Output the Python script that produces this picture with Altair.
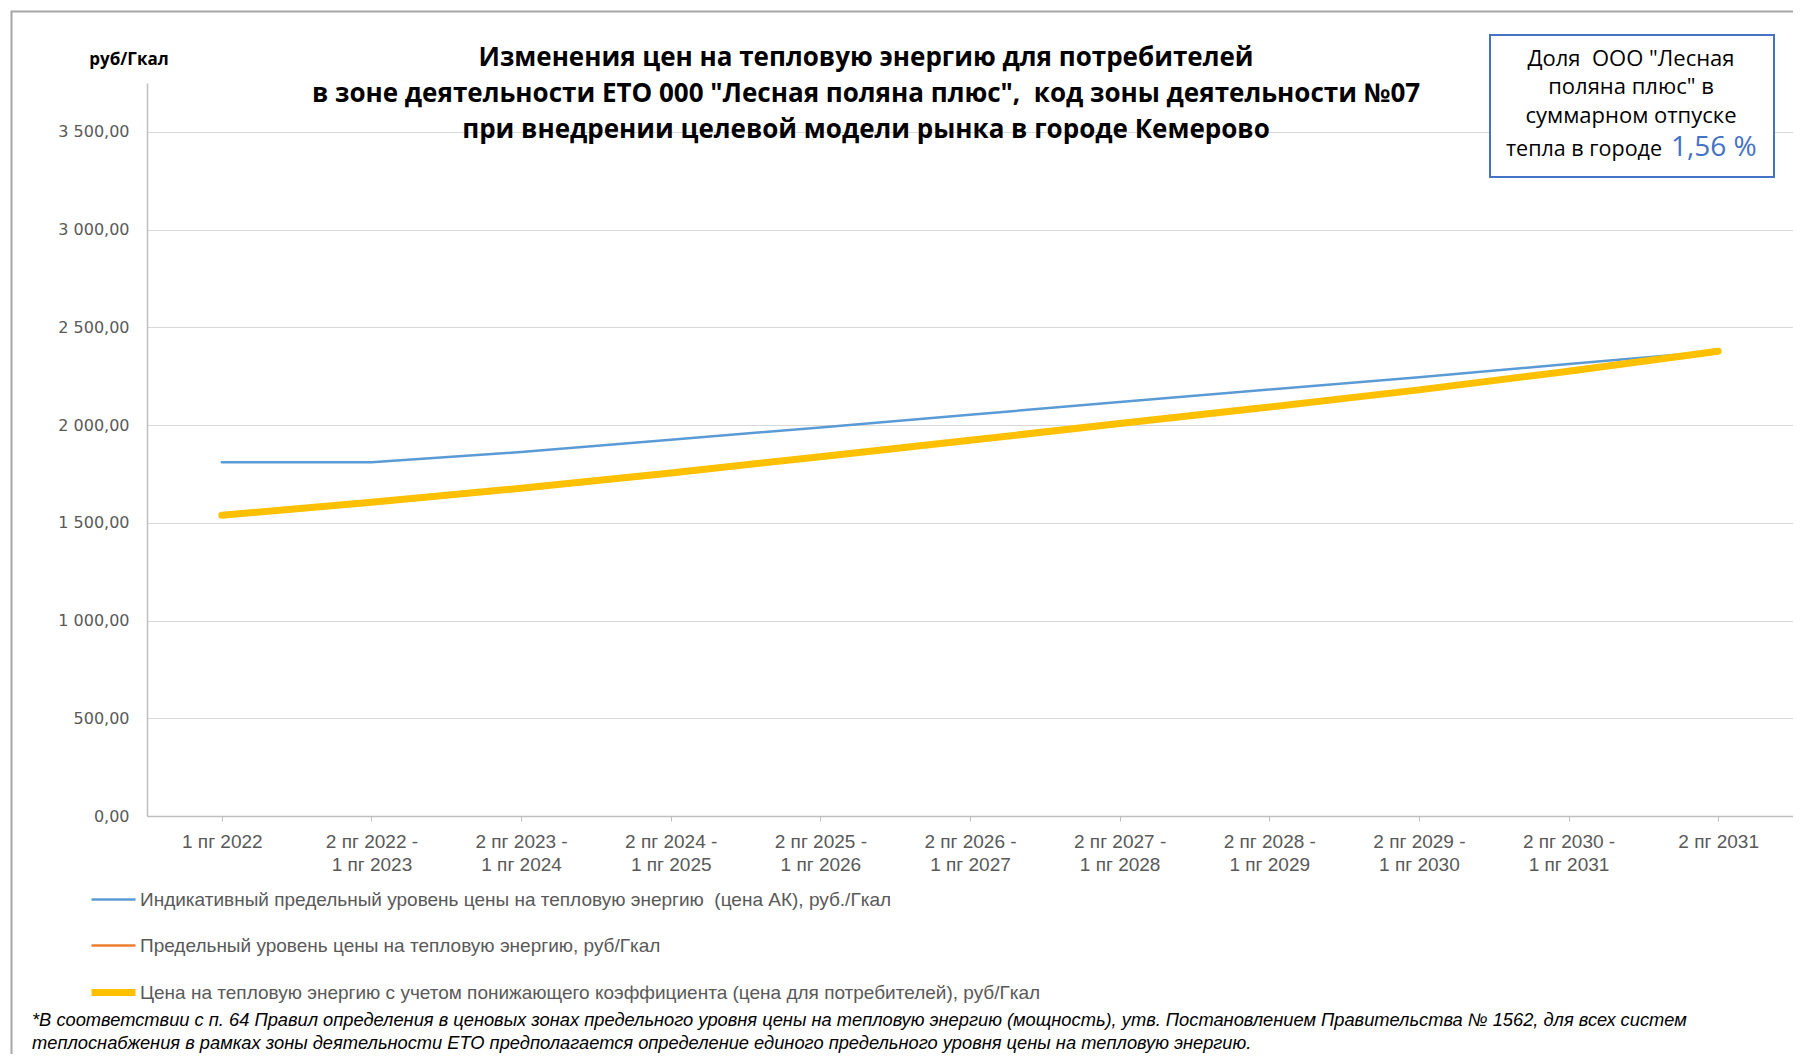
import altair as alt
import pandas as pd

categories = [
    "1 пг 2022",
    "2 пг 2022 - 1 пг 2023",
    "2 пг 2023 - 1 пг 2024",
    "2 пг 2024 - 1 пг 2025",
    "2 пг 2025 - 1 пг 2026",
    "2 пг 2026 - 1 пг 2027",
    "2 пг 2027 - 1 пг 2028",
    "2 пг 2028 - 1 пг 2029",
    "2 пг 2029 - 1 пг 2030",
    "2 пг 2030 - 1 пг 2031",
    "2 пг 2031",
]
indicative = [1810, 1810, 1862, 1925, 1988, 2053, 2118, 2182, 2245, 2312, 2378]
consumer = [1539, 1605, 1677, 1755, 1838, 1922, 2008, 2092, 2180, 2275, 2378]

series_names = [
    "Индикативный предельный уровень цены на тепловую энергию\u00a0 (цена АК), руб./Гкал",
    "Предельный уровень цены на тепловую энергию, руб/Гкал",
    "Цена на тепловую энергию с учетом понижающего коэффициента (цена для потребителей), руб/Гкал",
]
series_colors = ["#5B9BD5", "#ED7D31", "#FFC000"]
y_ticks = [0, 500, 1000, 1500, 2000, 2500, 3000, 3500]

title_lines = [
    "Изменения цен на тепловую энергию для потребителей",
    "в зоне деятельности ЕТО 000 \"Лесная поляна плюс\",\u00a0 код зоны деятельности №07",
    "при внедрении целевой модели рынка в городе Кемерово",
]
y_unit = "руб/Гкал"
share_lines = ["Доля\u00a0 ООО \"Лесная", "поляна плюс\" в", "суммарном отпуске", "тепла в городе"]
share_value = "1,56 %"
footnote_lines = [
    "*В соответствии с п. 64 Правил определения в ценовых зонах предельного уровня цены на тепловую энергию (мощность), утв. Постановлением Правительства № 1562, для всех систем",
    "теплоснабжения в рамках зоны деятельности ЕТО предполагается определение единого предельного уровня цены на тепловую энергию.",
]

W, H = 1646, 733
NARROW = "Liberation Sans Narrow, Liberation Sans, sans-serif"

df_ind = pd.DataFrame({"cat": categories, "value": indicative, "series": series_names[0]})
df_con = pd.DataFrame({"cat": categories, "value": consumer, "series": series_names[2]})

x_enc = alt.X(
    "cat:N",
    sort=categories,
    scale=alt.Scale(type="point", padding=0.5, domain=categories),
    axis=alt.Axis(
        title=None,
        labelAngle=0,
        labelExpr="split(replace(datum.label, ' - ', ' -|'), '|')",
        labelFont=NARROW,
        labelFontSize=19,
        labelColor="#595959",
        labelLineHeight=23,
        labelPadding=11.5,
        tickColor="#BFBFBF",
        tickSize=5,
        domainColor="#BFBFBF",
        domainWidth=1.5,
        grid=False,
    ),
)
y_enc = alt.Y(
    "value:Q",
    scale=alt.Scale(domain=[0, 3750], nice=False, zero=True),
    axis=alt.Axis(
        title=None,
        values=y_ticks,
        labelExpr="replace(replace(format(datum.value, ',.2f'), ',', ' '), '.', ',')",
        labelFont="DejaVu Sans",
        labelFontSize=16,
        labelColor="#595959",
        labelPadding=18,
        ticks=False,
        tickSize=0,
        grid=True,
        gridColor="#D9D9D9",
        domainColor="#BFBFBF",
        domainWidth=1.5,
    ),
)


def legend(x, y, width, offset):
    return alt.Legend(
        title=None,
        orient="none",
        legendX=x,
        legendY=y,
        direction="vertical",
        symbolType="stroke",
        symbolSize=1936,
        symbolStrokeWidth=width,
        labelFont=NARROW,
        labelFontSize=19,
        labelColor="#595959",
        labelLimit=0,
        labelOffset=offset,
        rowPadding=12,
        padding=0,
    )


line_ind = alt.Chart(df_ind).mark_line(strokeCap="round", strokeJoin="round", strokeWidth=2.5).encode(
    x=x_enc,
    y=y_enc,
    color=alt.Color(
        "series:N",
        scale=alt.Scale(domain=series_names[:2], range=series_colors[:2]),
        legend=legend(-57, 793, 2.5, 3),
    ),
)
line_con = alt.Chart(df_con).mark_line(strokeCap="round", strokeJoin="round", strokeWidth=7).encode(
    x=x_enc,
    y=y_enc,
    color=alt.Color(
        "series:N",
        scale=alt.Scale(domain=series_names[2:], range=series_colors[2:]),
        legend=legend(-59, 884, 7, 1),
    ),
)

one = pd.DataFrame({"t": [""]})


def txt(text, x, y, **kw):
    return alt.Chart(pd.DataFrame({"t": [text]})).mark_text(baseline="middle", **kw).encode(
        text="t:N", x=alt.value(x), y=alt.value(y)
    )


border = alt.Chart(one).mark_rect(fillOpacity=0, stroke="#A6A6A6", strokeWidth=2).encode(
    x=alt.value(-135.5), y=alt.value(-71.5), x2=alt.value(3000), y2=alt.value(3000)
)
box = alt.Chart(one).mark_rect(fill="white", stroke="#4472C4", strokeWidth=2).encode(
    x=alt.value(1343), y=alt.value(-48), x2=alt.value(1627), y2=alt.value(94)
)

layers = [border, line_ind, line_con, box]
for i, t in enumerate(title_lines):
    layers.append(txt(t, 719, -25.5 + 36 * i, font="Open Sans", fontSize=26, fontWeight="bold",
                      color="black", align="center"))
layers.append(txt(y_unit, -18, -23, font="Open Sans", fontSize=17, fontWeight="bold",
                  color="black", align="center"))
for i, t in enumerate(share_lines[:3]):
    layers.append(txt(t, 1484, -24.5 + 28.8 * i, font="Open Sans", fontSize=22,
                      color="black", align="center"))
layers.append(txt(share_lines[3], 1515, 66.5, font="Open Sans", fontSize=21.5,
                  color="black", align="right"))
layers.append(txt(share_value, 1524, 65, font="Open Sans", fontSize=28,
                  color="#4472C4", align="left"))
for i, t in enumerate(footnote_lines):
    layers.append(txt(t, -115, 938 + 23 * i, font=NARROW, fontSize=18.3, fontStyle="italic",
                      color="black", align="left"))

chart = alt.layer(*layers).resolve_scale(color="independent").properties(
    width=W,
    height=H,
    autosize=alt.AutoSizeParams(type="none"),
    padding={"left": 139, "top": 75, "right": 0, "bottom": 238},
    background="white",
).configure_view(stroke=None)

chart.save("out.html", embed_options={"renderer": "svg", "actions": False})
